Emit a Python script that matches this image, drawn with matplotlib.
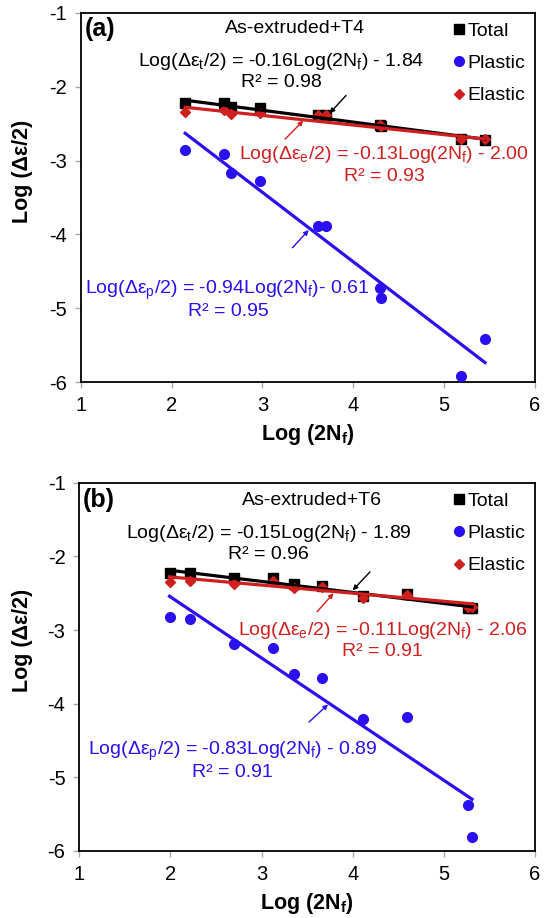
import numpy as np
import matplotlib
matplotlib.use("Agg")
import matplotlib.pyplot as plt

plt.rcParams["font.family"] = ["Liberation Sans", "DejaVu Sans"]
plt.rcParams["mathtext.fontset"] = "custom"
plt.rcParams["mathtext.rm"] = "Liberation Sans"
plt.rcParams["mathtext.it"] = "Liberation Sans:italic"
plt.rcParams["mathtext.bf"] = "Liberation Sans:bold"
plt.rcParams["axes.unicode_minus"] = False

# ---- data: Log(2Nf) vs Log(strain amplitude) ----
t4_x = [2.15, 2.58, 2.65, 2.97, 3.61, 3.70, 4.29, 4.30, 5.19, 5.45]
t4_total = [-2.22, -2.22, -2.28, -2.29, -2.38, -2.38, -2.52, -2.53, -2.71, -2.72]
t4_elastic = [-2.34, -2.31, -2.37, -2.36, -2.38, -2.39, -2.52, -2.53, -2.71, -2.71]
t4_plastic = [-2.86, -2.91, -3.17, -3.28, -3.88, -3.89, -4.73, -4.86, -5.91, -5.41]

t6_x = [1.99, 2.21, 2.70, 3.12, 3.36, 3.66, 4.11, 4.60, 5.26, 5.31]
t6_total = [-2.22, -2.23, -2.29, -2.30, -2.38, -2.40, -2.54, -2.51, -2.70, -2.70]
t6_elastic = [-2.35, -2.33, -2.37, -2.33, -2.43, -2.41, -2.56, -2.52, -2.69, -2.69]
t6_plastic = [-2.83, -2.85, -3.19, -3.25, -3.60, -3.65, -4.21, -4.18, -5.38, -5.81]

# fitted (slope, intercept) and R^2 for total / elastic / plastic
t4_fit = {"total": (-0.16, -1.84, 0.98), "elastic": (-0.13, -2.00, 0.93), "plastic": (-0.94, -0.61, 0.95)}
t6_fit = {"total": (-0.15, -1.89, 0.96), "elastic": (-0.11, -2.06, 0.91), "plastic": (-0.83, -0.89, 0.91)}

x_ticks = [1, 2, 3, 4, 5, 6]
y_ticks = [-1, -2, -3, -4, -5, -6]

BLACK = "#000000"
RED = "#d01f1f"
BLUE = "#2a0ff0"

FS = 14  # annotation font size

W, H = 544, 918
fig = plt.figure(figsize=(W / 100, H / 100), dpi=100)


def panel(rect, x, tot, ela, pla, fit, tag, title, txt, arrows, ylab_x):
    ax = fig.add_axes(rect)
    ax.set_xlim(1, 6)
    ax.set_ylim(-6, -1)
    ax.set_xticks(x_ticks)
    ax.set_yticks(y_ticks)
    for s in ax.spines.values():
        s.set_linewidth(1.3)
        s.set_color("black")
    ax.tick_params(direction="out", length=4, width=1, color="#a8a8a8",
                   labelsize=14.5, pad=6)

    ax.plot(x, tot, ls="none", marker="s", ms=7, color=BLACK, zorder=3, label="Total")
    ax.plot(x, pla, ls="none", marker="o", ms=7, color=BLUE, zorder=3, label="Plastic")
    ax.plot(x, ela, ls="none", marker="D", ms=4.8, color=RED, zorder=4, label="Elastic")

    xs = np.array([min(x), max(x)])
    for key, col in (("total", BLACK), ("elastic", RED), ("plastic", BLUE)):
        m, b, _ = fit[key]
        ax.plot(xs, m * xs + b, color=col, lw=2.3, zorder=5)

    ax.legend(loc="upper right", bbox_to_anchor=(1.0, 1.0), frameon=False,
              fontsize=14, handlelength=0.6, handletextpad=0.15,
              labelspacing=0.75, borderaxespad=0.1)

    ax.text(tag[0], tag[1], tag[2], fontsize=18, fontweight="bold",
            ha="left", va="center")
    ax.text(title[0], title[1], title[2], fontsize=14, ha="center", va="center")

    labels = {
        "total": r"Log(Δε$_\mathregular{t}$/2) = %.2fLog(2N$_\mathregular{f}$) - %.2f",
        "elastic": r"Log(Δε$_\mathregular{e}$/2) = %.2fLog(2N$_\mathregular{f}$) - %.2f",
        "plastic": r"Log(Δε$_\mathregular{p}$/2) = %.2fLog(2N$_\mathregular{f}$)" + txt["psep"] + "%.2f",
    }
    for key, col in (("total", BLACK), ("elastic", RED), ("plastic", BLUE)):
        m, b, r2 = fit[key]
        (ex, ey), (rx, ry) = txt[key]
        ax.text(ex, ey, labels[key] % (m, -b), color=col, fontsize=FS,
                ha="center", va="center")
        ax.text(rx, ry, "R² = %.2f" % r2, color=col, fontsize=FS,
                ha="center", va="center")

    for (tail, head, col) in arrows:
        ax.annotate("", xy=head, xytext=tail,
                    arrowprops=dict(arrowstyle="-|>", color=col, lw=1.0,
                                    mutation_scale=7, shrinkA=0, shrinkB=0),
                    zorder=6)

    ax.set_xlabel(r"Log (2N$_\mathbf{f}$)", fontsize=15.5, fontweight="bold")
    ax.set_ylabel("Log (Δε/2)", fontsize=15.5, fontweight="bold")
    ax.xaxis.set_label_coords(0.5, -0.108)
    ax.yaxis.set_label_coords(ylab_x, 0.572)
    return ax


# panel (a): As-extruded + T4
panel([80.7 / W, 1 - 382.3 / H, 454.3 / W, 369.6 / H],
      t4_x, t4_total, t4_elastic, t4_plastic, t4_fit,
      (1.04, -1.22, "(a)"), (3.36, -1.22, "As-extruded+T4"),
      {"total": ((3.21, -1.66), (3.21, -1.95)),
       "elastic": ((4.34, -2.92), (4.34, -3.22)),
       "plastic": ((2.61, -4.75), (2.62, -5.04)),
       "psep": "- "},
      [((3.92, -2.12), (3.74, -2.36), BLACK),
       ((3.25, -2.71), (3.45, -2.46), RED),
       ((3.33, -4.18), (3.51, -3.94), BLUE)],
      -0.105)

# panel (b): As-extruded + T6
panel([79.3 / W, 1 - 851 / H, 455.7 / W, 368.3 / H],
      t6_x, t6_total, t6_elastic, t6_plastic, t6_fit,
      (1.04, -1.235, "(b)"), (3.55, -1.235, "As-extruded+T6"),
      {"total": ((3.08, -1.69), (3.08, -1.98)),
       "elastic": ((4.33, -3.00), (4.33, -3.29)),
       "plastic": ((2.68, -4.65), (2.68, -4.94)),
       "psep": " - "},
      [((4.19, -2.21), (4.00, -2.46), BLACK),
       ((3.61, -2.75), (3.79, -2.50), RED),
       ((3.52, -4.25), (3.73, -4.01), BLUE)],
      -0.102)

fig.savefig("out.png", dpi=100)
